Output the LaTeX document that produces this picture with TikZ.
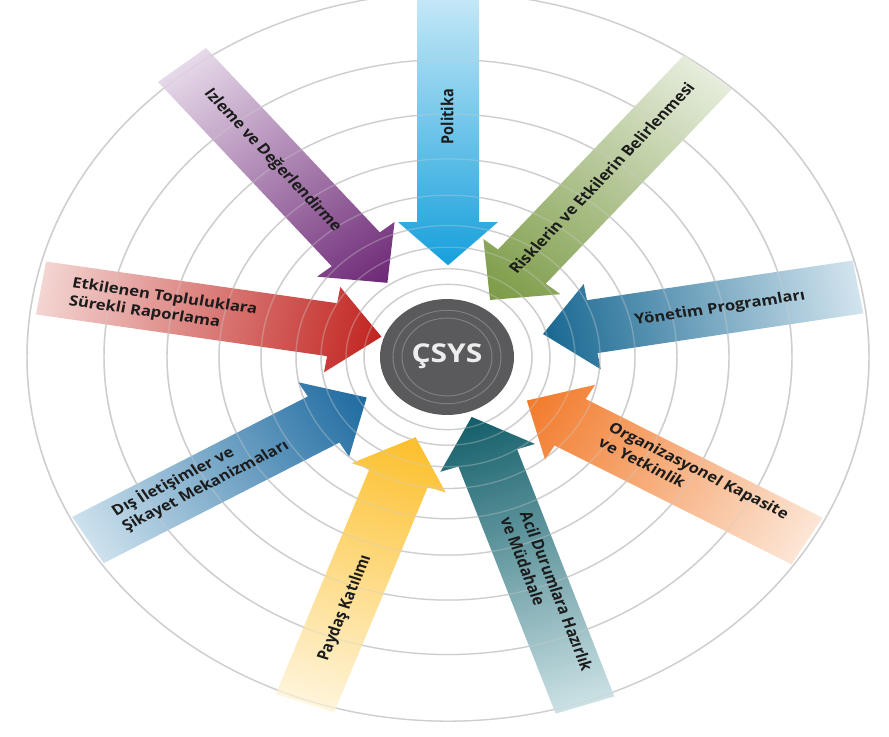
\documentclass[tikz,border=0pt]{standalone}
\usepackage{fontspec}
\setmainfont{Open Sans}
\definecolor{ringc}{HTML}{CECECE}
\definecolor{centergray}{HTML}{5A5A5C}
\definecolor{innerring}{HTML}{808083}
\definecolor{labeltext}{HTML}{1C1C1C}
\definecolor{polL}{HTML}{CDEBF8}\definecolor{polD}{HTML}{16A0DC}
\definecolor{izlL}{HTML}{E6D9E9}\definecolor{izlD}{HTML}{6C2775}
\definecolor{rskL}{HTML}{E6EDDC}\definecolor{rskD}{HTML}{7B9A45}
\definecolor{ynmL}{HTML}{D2E4EE}\definecolor{ynmD}{HTML}{176791}
\definecolor{orgL}{HTML}{FCE6D6}\definecolor{orgD}{HTML}{F27A2A}
\definecolor{aclL}{HTML}{CCE2E5}\definecolor{aclD}{HTML}{125E69}
\definecolor{pydL}{HTML}{FFF5DC}\definecolor{pydD}{HTML}{FCBF2A}
\definecolor{disL}{HTML}{CDE1ED}\definecolor{disD}{HTML}{1D6AA0}
\definecolor{etkL}{HTML}{F3D5D2}\definecolor{etkD}{HTML}{C1231F}
\tikzset{
  lbl/.style={font=\bfseries\fontsize{12.5}{15.5}\selectfont, text=labeltext, inner sep=0pt, align=left},
  ringline/.style={draw=ringc, line width=1.1pt},
  ringfaint/.style={draw=ringc, line width=1.1pt, opacity=0.35},
}
% #1,#2 tail centre; #3 angle; #4 length; #5 light colour; #6 dark colour
\newcommand\csysarrow[6]{%
  \begin{scope}[transform canvas={shift={(#1,#2)},rotate=#3}]
    \shade[left color=#5, right color=#6]
      (0,31) -- ({#4-50},31) -- ({#4-50},50) -- (#4,0) -- ({#4-50},-50)
      -- ({#4-50},-31) -- (0,-31) -- cycle;
  \end{scope}}
\begin{document}
\begin{tikzpicture}[x=0.75pt,y=-0.75pt]
\useasboundingbox (0,0) rectangle (889,736);
\fill[white] (0,0) rectangle (889,736);
\clip (0,0) rectangle (889,736);
\begin{scope}[transform canvas={shift={(448,357)},yscale=0.865}]
  % rings
  \foreach \r in {84,102,127,152,187,229,281,344,421}
    \draw[ringline] (0,0) circle[radius=\r];
  % arrows
  \csysarrow{0}{-430}{-90}{324}{polL}{polD}
  \csysarrow{-266}{-337.6}{-50.8}{325}{izlL}{izlD}
  \csysarrow{260}{-329.5}{-129.6}{342}{rskL}{rskD}
  \csysarrow{410}{-81}{-170.2}{319.7}{ynmL}{ynmD}
  \csysarrow{359}{212.7}{149.9}{323.8}{orgL}{orgD}
  \csysarrow{137}{402.3}{108.8}{351.8}{aclL}{aclD}
  \csysarrow{-143}{400}{70.2}{326.6}{pydL}{pydD}
  \csysarrow{-360}{211.6}{30.6}{323.8}{disL}{disD}
  \csysarrow{-407}{-79.8}{-9.4}{345.1}{etkL}{etkD}
  % faint rings over the arrows
  \foreach \r in {84,102,127,152,187,229,281,344,421}
    \draw[ringfaint] (0,0) circle[radius=\r];
  % centre
  \fill[centergray] (-1,0) circle[radius=67];
  \draw[innerring, line width=0.8pt] (-1,0) circle[radius=54];
  \draw[innerring, line width=0.8pt] (-1,0) circle[radius=45];
  \node[anchor=base, text=white!93!black, inner sep=0pt,
        font=\bfseries\fontsize{22.5}{25}\selectfont] (csys) at (-1,6) {ÇSYS};
  % labels
  \node[lbl, rotate=90] (politika) at (-1,-278) {Politika};
  \node[lbl, rotate=-50.8] (izleme) at (-175.5,-227.2) {Izleme ve Değerlendirme};
  \node[lbl, rotate=50.4] (riskler) at (153.5,-206.9) {Risklerin ve Etkilerin Belirlenmesi};
  \node[lbl, rotate=9.8] (yonetim) at (272,-56) {Yönetim Programları};
  \node[lbl, rotate=-30.1] (organizasyon) at (246,139.9) {Organizasyonel Kapasite\\ve Yetkinlik};
  \node[lbl, rotate=-71.2] (acil) at (99,274) {Acil Durumlara Hazırlık\\ve Müdahale};
  \node[lbl, rotate=70.2] (paydas) at (-103,290.2) {Paydaş Katılımı};
  \node[lbl, rotate=30.6] (dis) at (-248,139.9) {Dış İletişimler ve\\Şikayet Mekanizmaları};
  \node[lbl, rotate=-9.4] (etkilenen) at (-285,-59) {Etkilenen Topluluklara\\Sürekli Raporlama};
\end{scope}
\end{tikzpicture}
\end{document}
